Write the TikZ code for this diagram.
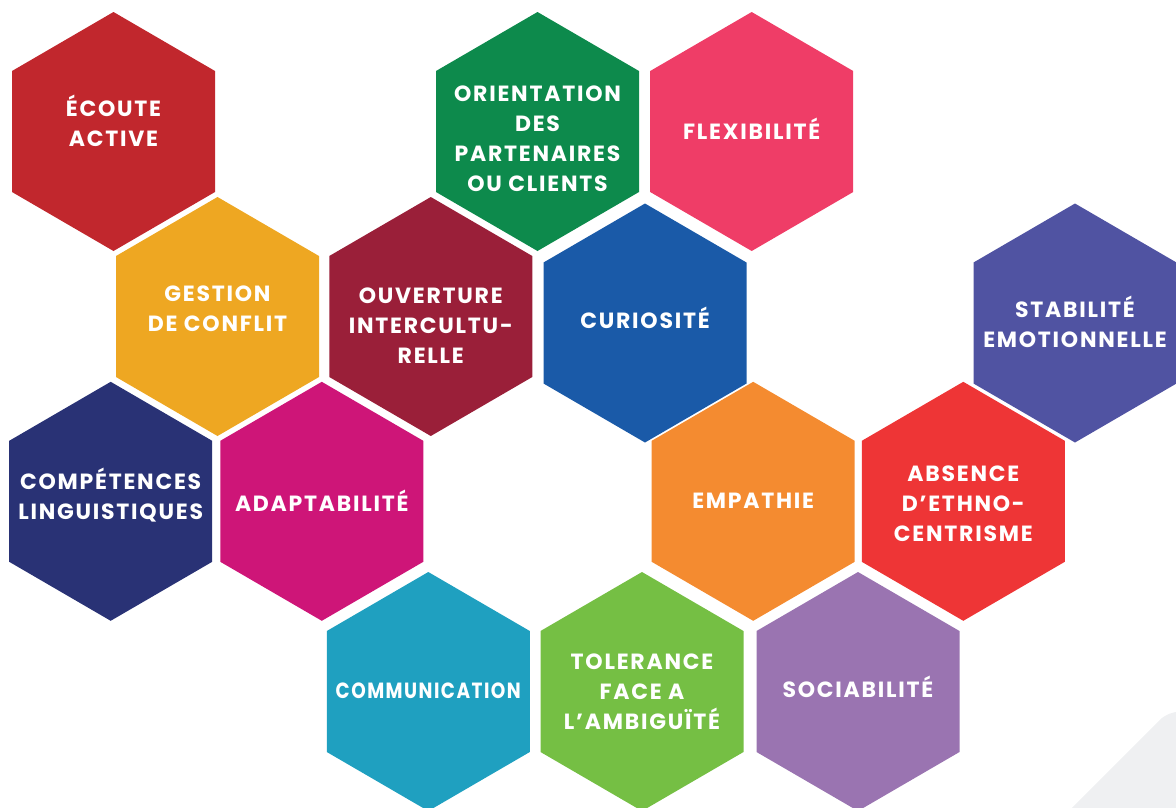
\documentclass[tikz,border=0pt]{standalone}
\usepackage{fontspec}
\setmainfont{Poppins}
\newfontfamily\hexfont{Poppins}[LetterSpace=8]
\definecolor{cEcoute}{HTML}{C1272D}
\definecolor{cOrient}{HTML}{0D8A4C}
\definecolor{cFlex}{HTML}{EF3D67}
\definecolor{cGest}{HTML}{EEA722}
\definecolor{cOuv}{HTML}{9A1F39}
\definecolor{cCur}{HTML}{1A5AA8}
\definecolor{cStab}{HTML}{5053A2}
\definecolor{cComp}{HTML}{293275}
\definecolor{cAdap}{HTML}{CE1578}
\definecolor{cEmp}{HTML}{F48B30}
\definecolor{cAbs}{HTML}{EE3536}
\definecolor{cComm}{HTML}{1FA0C0}
\definecolor{cTol}{HTML}{75BF44}
\definecolor{cSoc}{HTML}{9A74B1}
\definecolor{cGray}{HTML}{EFF0F2}
\newcommand\hexcell[6]{%
  \fill[#4, shift={(#2,#3)}] (0,-119.5) -- (101.5,-60.5) -- (101.5,60.5) -- (0,119.5) -- (-101.5,60.5) -- (-101.5,-60.5) -- cycle;
  \node[lbl] (#1) at (#2,#5) {#6};}
\begin{document}
\begin{tikzpicture}[x=1pt,y=-1pt,
  lbl/.style={text=white, align=center, font=\hexfont\bfseries\fontsize{22}{30}\selectfont, inner sep=0pt}]
\useasboundingbox (0,0) rectangle (1176,807);
\clip (0,0) rectangle (1176,807);
\fill[cGray, rounded corners=29] (1020,860) -- (1180,699.7) -- (1380,899.7) -- cycle;
\hexcell{ecoute}{113.5}{131.5}{cEcoute}{120.5}{ÉCOUTE\\ACTIVE}
\hexcell{orient}{537.5}{131.5}{cOrient}{138.5}{ORIENTATION\\DES\\PARTENAIRES\\OU CLIENTS}
\hexcell{flex}{751.7}{131.5}{cFlex}{129}{FLEXIBILITÉ}
\hexcell{gest}{217.5}{316.5}{cGest}{308.5}{GESTION\\DE CONFLIT}
\hexcell{ouv}{430.8}{316.5}{cOuv}{326}{OUVERTURE\\INTERCULTU-\\RELLE}
\hexcell{cur}{645}{323}{cCur}{317.5}{CURIOSITÉ}
\hexcell{stab}{1075}{323}{cStab}{321.5}{STABILITÉ\\EMOTIONNELLE}
\hexcell{comp}{110.7}{501.3}{cComp}{495}{COMPÉTENCES\\LINGUISTIQUES}
\hexcell{adap}{321.8}{501.3}{cAdap}{500.5}{ADAPTABILITÉ}
\hexcell{emp}{753.2}{501.3}{cEmp}{500.5}{EMPATHIE}
\hexcell{abs}{963.3}{501.3}{cAbs}{504}{ABSENCE\\D’ETHNO-\\CENTRISME}
\hexcell{comm}{428.3}{691.5}{cComm}{690.5}{\scalebox{0.84}[1]{COMMUNICATION}}
\hexcell{tol}{642}{691.5}{cTol}{691.5}{TOLERANCE\\FACE A\\L’AMBIGUÏTÉ}
\hexcell{soc}{858}{691.5}{cSoc}{686.5}{SOCIABILITÉ}
\end{tikzpicture}
\end{document}
